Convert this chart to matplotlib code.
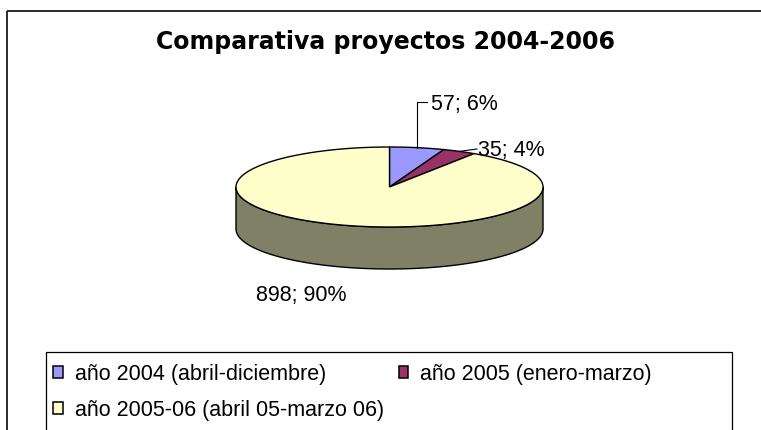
import numpy as np
import matplotlib
matplotlib.use("Agg")
import matplotlib.pyplot as plt
from matplotlib.patches import Polygon, Rectangle, Patch

# ---- data ----
categories = ["año 2004 (abril-diciembre)", "año 2005 (enero-marzo)", "año 2005-06 (abril 05-marzo 06)"]
values = [57, 35, 898]
pct_labels = ["6%", "4%", "90%"]
colors = ["#9999FF", "#993366", "#FFFFCC"]
side_color = "#808066"
title = "Comparativa proyectos 2004-2006"

W, H = 761, 431
fig = plt.figure(figsize=(W / 100, H / 100), dpi=100)
ax = fig.add_axes([0, 0, 1, 1])
ax.set_xlim(0, W)
ax.set_ylim(H, 0)
ax.axis("off")

# chart area border (left + top visible)
ax.add_patch(Rectangle((7, 12), 800, 500, fill=False, edgecolor="#2a2a2a", lw=1.4))

# ---- 3D pie geometry ----
cx, cy, a, b, depth = 389.5, 188.0, 153.5, 40.0, 42.0
total = float(sum(values))
fracs = [v / total for v in values]


def pt(theta_deg, dy=0.0):
    t = np.radians(theta_deg)
    return cx + a * np.cos(t), cy - b * np.sin(t) + dy


# slice angles, clockwise from 12 o'clock
starts, ends = [], []
ang = 90.0
for f in fracs:
    starts.append(ang)
    ang -= 360.0 * f
    ends.append(ang)

# side wall (front half, belongs to the slice covering it -> yellow, shaded)
th = np.linspace(180, 360, 200)
top_x, top_y = pt(th)
bot_x, bot_y = pt(th[::-1], depth)
side = np.column_stack([np.concatenate([top_x, bot_x]), np.concatenate([top_y, bot_y])])
ax.add_patch(Polygon(side, closed=True, facecolor=side_color, edgecolor="black", lw=1.0))

# top faces
for s, e, c in zip(starts, ends, colors):
    n = max(int(abs(s - e)), 2) + 1
    tt = np.linspace(s, e, n)
    xs, ys = pt(tt)
    poly = np.column_stack([np.concatenate([[cx], xs]), np.concatenate([[cy], ys])])
    ax.add_patch(Polygon(poly, closed=True, facecolor=c, edgecolor="black", lw=1.0, joinstyle="miter"))

# ---- data labels ----
lab_font = dict(family="Liberation Sans", fontsize=15.5, color="black")
mids = [(s + e) / 2 for s, e in zip(starts, ends)]
texts = [f"{v}; {p}" for v, p in zip(values, pct_labels)]

# slice 1: leader vertical up then horizontal to label
mx, my = pt(mids[0])
ax.plot([mx, mx, mx + 10], [my, 103, 103], color="black", lw=0.8)
ax.text(mx + 14, 110.5, texts[0], ha="left", va="baseline", **lab_font)

# slice 2: short horizontal leader
mx, my = pt(mids[1])
ax.plot([mx, 477], [my, 150], color="black", lw=0.8)
ax.text(478, 156, texts[1], ha="left", va="baseline", **lab_font)

# slice 3: label below-left
ax.text(301, 301.5, texts[2], ha="center", va="baseline", **lab_font)

# ---- title ----
ax.text(385, 42, title, ha="center", va="center", family="DejaVu Sans",
        fontweight="bold", fontsize=17, color="black")

# ---- legend ----
ax.add_patch(Rectangle((45.7, 352.7), 686.5, 200, fill=False, edgecolor="black", lw=0.9))
handles = [Patch(facecolor=c, edgecolor="black", lw=1.1) for c in colors]
order = [0, 2, 1]  # fill row-wise as in the original
leg = fig.legend([handles[i] for i in order], [categories[i] for i in order],
                 loc="upper left", bbox_to_anchor=(53 / W, 1 - 364.5 / H), ncol=2,
                 frameon=False, borderpad=0, borderaxespad=0,
                 prop=dict(family="Liberation Sans", size=15.5),
                 handlelength=0.45, handleheight=0.5, handletextpad=0.55,
                 columnspacing=0.7, labelspacing=0.69)

fig.savefig("out.png", dpi=100)
